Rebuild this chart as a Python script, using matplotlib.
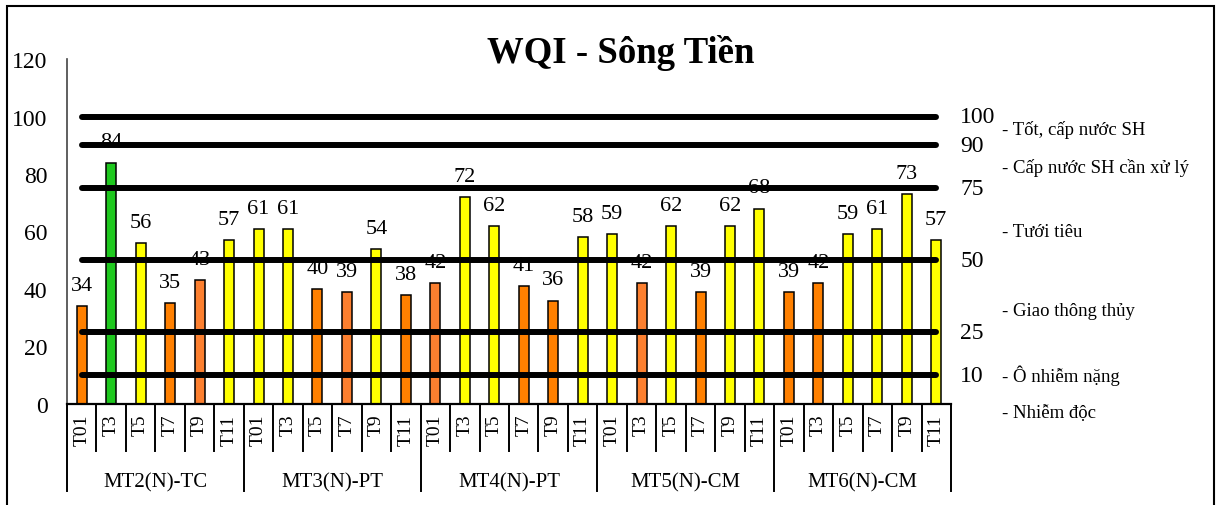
import matplotlib.pyplot as plt
from matplotlib.patches import Rectangle

plt.rcParams['font.family'] = ['Liberation Serif', 'DejaVu Serif']

# data
stations = ['MT2(N)-TC', 'MT3(N)-PT', 'MT4(N)-PT', 'MT5(N)-CM', 'MT6(N)-CM']
months = ['T01', 'T3', 'T5', 'T7', 'T9', 'T11']
wqi = [34, 84, 56, 35, 43, 57,
       61, 61, 40, 39, 54, 38,
       42, 72, 62, 41, 36, 58,
       59, 42, 62, 39, 62, 68,
       39, 42, 59, 61, 73, 57]
thresholds = [100, 90, 75, 50, 25, 10]
uses = ['- Tốt, cấp nước SH', '- Cấp nước SH cần xử lý', '- Tưới tiêu',
        '- Giao thông thủy', '- Ô nhiễm nặng', '- Nhiễm độc']
use_pos = [95.5, 82.5, 60, 32.5, 10, -2.8]
light_orange = [4, 9, 12, 19]  # bars drawn in the lighter orange shade


def bar_color(i, v):
    if v >= 75:
        return '#1EC81E'
    if v >= 50:
        return '#FFFF00'
    if i in light_orange:
        return '#FC7F2F'
    return '#FF8000'


n = len(wqi)
x = list(range(n))
colors = [bar_color(i, v) for i, v in enumerate(wqi)]

fig = plt.figure(figsize=(12.16, 5.06), dpi=100)
ax = fig.add_axes([67 / 1216, 101 / 506, 884 / 1216, 345 / 506])

ax.bar(x, wqi, width=0.34, color=colors, edgecolor='black', linewidth=1.1, zorder=2)

for xi, v in zip(x, wqi):
    ax.annotate(str(v), (xi, v), xytext=(0, 16), textcoords='offset pixels',
                ha='center', va='baseline', fontsize=16, zorder=3)

# threshold lines
for t in thresholds:
    ax.plot([0, n - 1], [t, t], color='black', lw=4.3, solid_capstyle='round', zorder=4)
    ax.annotate(str(t), (n - 1, t), xytext=(24, 0), textcoords='offset pixels',
                ha='left', va='center', fontsize=17, annotation_clip=False)

for label, yv in zip(uses, use_pos):
    ax.text(1.0575, yv, label, transform=ax.get_yaxis_transform(),
            ha='left', va='center', fontsize=13.5)

ax.set_xlim(-0.5, n - 0.5)
ax.set_ylim(0, 120)
ax.set_yticks(range(0, 121, 20))
ax.tick_params(axis='y', length=0, pad=14, labelsize=17)

ax.set_xticks(x)
ax.set_xticklabels(months * len(stations), rotation=90, fontsize=14)
ax.tick_params(axis='x', length=0, pad=7)

for s in ['top', 'right']:
    ax.spines[s].set_visible(False)
ax.spines['left'].set_color('#444444')
ax.spines['left'].set_linewidth(1.2)
ax.spines['bottom'].set_linewidth(1.6)

# category separators below the axis
trans = ax.get_xaxis_transform()
for k in range(n + 1):
    depth = -0.252 if k % len(months) == 0 else -0.136
    ax.plot([k - 0.5, k - 0.5], [0, depth], color='black', lw=1.4,
            transform=trans, clip_on=False)

for j, name in enumerate(stations):
    ax.text(j * len(months) + 2.5, -0.226, name, transform=trans,
            ha='center', va='center', fontsize=15)

fig.text(621 / 1216, 1 - 53 / 506, 'WQI - Sông Tiền', ha='center', va='center',
         fontsize=26.5, fontweight='bold')

fig.patches.append(Rectangle((7 / 1216, -0.1), 1207 / 1216, 1 - 7 / 506 + 0.1,
                             transform=fig.transFigure, fill=False,
                             edgecolor='black', lw=1.5))

fig.savefig('out.png', dpi=100)
